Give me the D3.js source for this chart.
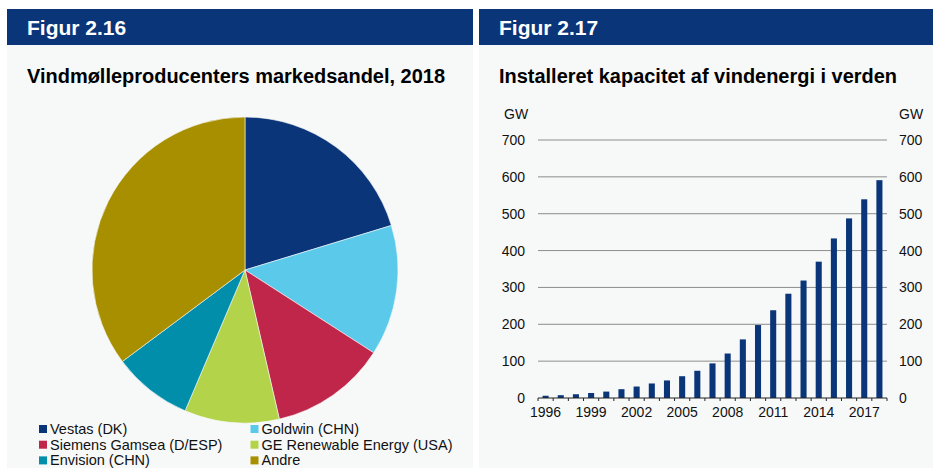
<!DOCTYPE html>
<html>
<head>
<meta charset="utf-8">
<script src="https://cdn.jsdelivr.net/npm/d3@7"></script>
<style>
  body { margin: 0; background: #ffffff; }
  svg { display: block; font-family: "Liberation Sans", Arial, sans-serif; }
</style>
</head>
<body>
<svg id="chart" width="933" height="468"></svg>
<script>
// Figur 2.16 - market shares (%)
const makers = ["Vestas (DK)", "Goldwin (CHN)", "Siemens Gamsea (D/ESP)", "GE Renewable Energy (USA)", "Envision (CHN)", "Andre"];
const shares = [20.3, 13.8, 12.3, 10.0, 8.4, 35.2];
const pieColors = ["#0a3579", "#5bcaea", "#c0264a", "#b2d34a", "#008eaa", "#a88f00"];

// Figur 2.17 - installed capacity (GW)
const years = d3.range(1996, 2019);
const capacity = [6.1, 7.6, 10.2, 13.6, 17.4, 23.9, 31.1, 39.4, 47.6, 59.1, 73.9, 93.9, 120.7, 159.0, 197.9, 238.1, 282.9, 318.7, 369.9, 432.9, 487.3, 539.1, 591.0];
const yTicks = [0, 100, 200, 300, 400, 500, 600, 700];
const xLabelYears = [1996, 1999, 2002, 2005, 2008, 2011, 2014, 2017];

const svg = d3.select("#chart");
const navy = "#0a3579";

// panels + headers
const panels = [
  { x: 7, w: 466, head: "Figur 2.16", title: "Vindmølleproducenters markedsandel, 2018", tw: 418 },
  { x: 479, w: 454, head: "Figur 2.17", title: "Installeret kapacitet af vindenergi i verden", tw: 398 }
];
panels.forEach(p => {
  svg.append("rect").attr("x", p.x).attr("y", 9).attr("width", p.w).attr("height", 459).attr("fill", "#f7f9f9");
  svg.append("rect").attr("x", p.x).attr("y", 9).attr("width", p.w).attr("height", 36).attr("fill", navy);
  svg.append("text").attr("x", p.x + 20).attr("y", 35).attr("fill", "#fff")
    .attr("font-size", 21).attr("font-weight", "bold").text(p.head);
  svg.append("text").attr("x", p.x + 20).attr("y", 83).attr("fill", "#000")
    .attr("font-size", 19.5).attr("font-weight", "bold")
    .attr("textLength", p.tw).attr("lengthAdjust", "spacingAndGlyphs").text(p.title);
});

// ---- pie ----
const pie = d3.pie().sort(null).value(d => d)(shares);
const arc = d3.arc().innerRadius(0).outerRadius(153);
svg.append("g").attr("transform", "translate(245,270)")
  .selectAll("path").data(pie).enter().append("path")
  .attr("d", arc)
  .attr("fill", (d, i) => pieColors[i])
  .attr("stroke", "#f7f9f9").attr("stroke-width", 0.6);

// legend, two columns
const legend = svg.append("g").attr("font-size", 14.5);
makers.forEach((m, i) => {
  const col = i % 2, row = Math.floor(i / 2);
  const lx = 39 + col * 211.5, ly = 429 + row * 15.7;
  legend.append("rect").attr("x", lx).attr("y", ly - 4).attr("width", 8).attr("height", 8).attr("fill", pieColors[i]);
  legend.append("text").attr("x", lx + 11).attr("y", ly + 5).attr("fill", "#111").text(m);
});

// ---- bars ----
const plotL = 538, plotR = 887, plotT = 140, plotB = 398;
const x = d3.scaleBand().domain(years).range([plotL, plotR]).paddingInner(0).paddingOuter(0);
const y = d3.scaleLinear().domain([0, 700]).range([plotB, plotT]);

const g = svg.append("g");
g.selectAll("line.grid").data(yTicks.filter(t => t > 0)).enter().append("line")
  .attr("x1", plotL).attr("x2", plotR)
  .attr("y1", d => y(d)).attr("y2", d => y(d))
  .attr("stroke", "#8c8c8c").attr("stroke-width", 1);

const bw = x.bandwidth() * 0.4;
g.selectAll("rect.bar").data(capacity).enter().append("rect")
  .attr("x", (d, i) => x(years[i]) + (x.bandwidth() - bw) / 2)
  .attr("y", d => y(d))
  .attr("width", bw)
  .attr("height", d => plotB - y(d))
  .attr("fill", navy);

// x axis with ticks on band edges
g.append("line").attr("x1", plotL).attr("x2", plotR).attr("y1", plotB).attr("y2", plotB)
  .attr("stroke", "#222").attr("stroke-width", 1);
const edges = years.map(yr => x(yr)).concat([plotR]);
g.selectAll("line.tick").data(edges).enter().append("line")
  .attr("x1", d => d).attr("x2", d => d)
  .attr("y1", plotB).attr("y2", plotB + 3)
  .attr("stroke", "#222");
g.selectAll("text.xl").data(xLabelYears).enter().append("text")
  .attr("x", d => x(d) + x.bandwidth() / 2)
  .attr("y", plotB + 19)
  .attr("text-anchor", "middle").attr("font-size", 14).attr("fill", "#111")
  .text(d => d);

// y labels both sides
g.selectAll("text.yl").data(yTicks).enter().append("text")
  .attr("x", 525).attr("y", d => y(d) + 5)
  .attr("text-anchor", "end").attr("font-size", 14).attr("fill", "#111")
  .text(d => d);
g.selectAll("text.yr").data(yTicks).enter().append("text")
  .attr("x", 899).attr("y", d => y(d) + 5)
  .attr("font-size", 14).attr("fill", "#111")
  .text(d => d);
g.append("text").attr("x", 504).attr("y", 119).attr("font-size", 14).attr("fill", "#111").text("GW");
g.append("text").attr("x", 899).attr("y", 119).attr("font-size", 14).attr("fill", "#111").text("GW");
</script>
</body>
</html>
